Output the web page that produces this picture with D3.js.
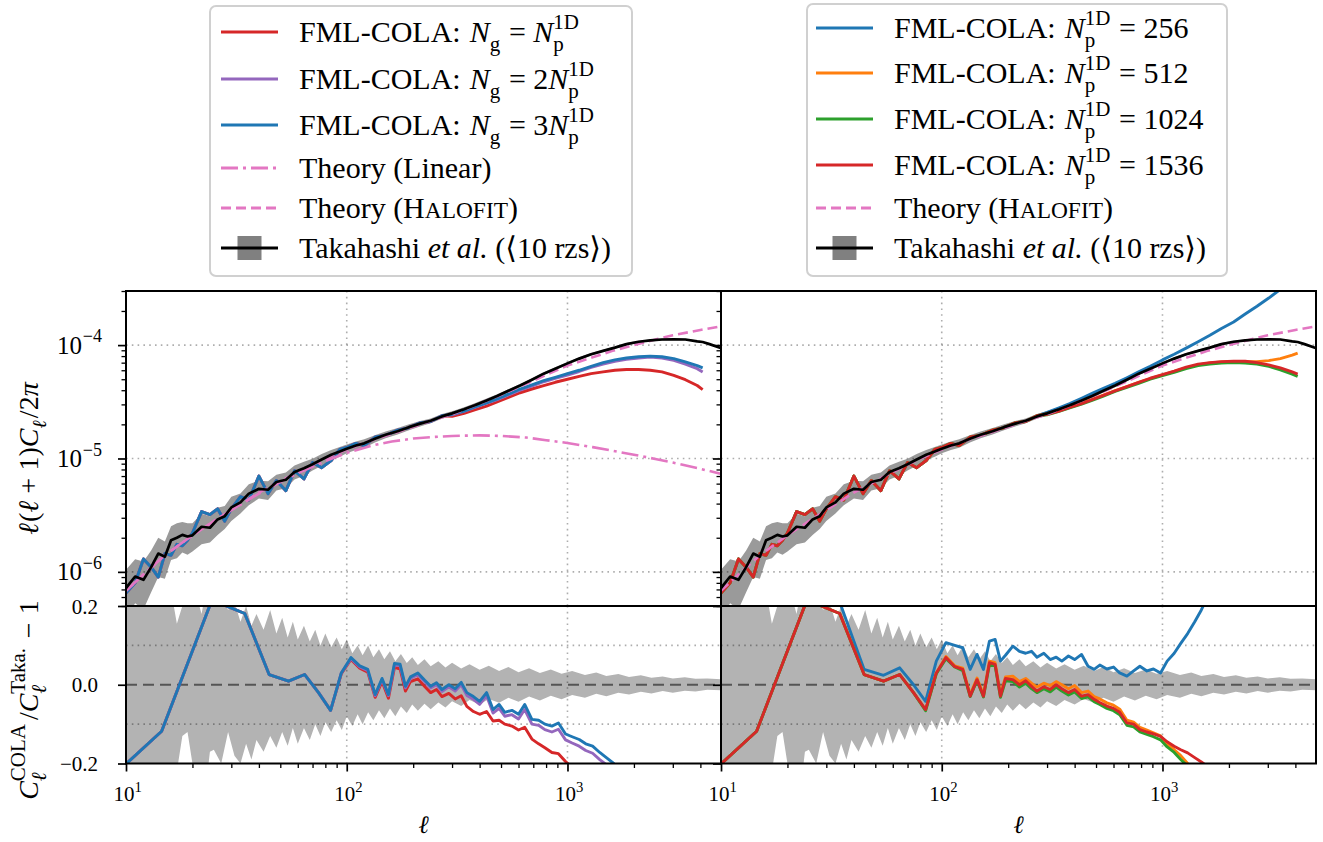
<!DOCTYPE html>
<html>
<head>
<meta charset="utf-8">
<script src="https://cdn.jsdelivr.net/npm/d3@7"></script>
<style>
body { margin: 0; background: #fff; }
svg { display: block; }
</style>
</head>
<body>
<div id="chart"></div>
<script>
// ---- Data ----

// multipoles for the power-spectrum panels
var ELL_TOP = [10, 11, 12, 13, 14, 15, 16, 17, 18, 19, 20, 22, 24, 26, 28, 30, 33, 36, 40, 44, 48, 53, 58, 64, 70, 77,
  85, 93, 100, 110, 120, 135, 150, 170, 190, 215, 240, 270, 300, 340, 380, 430, 480, 540, 610, 690, 780, 880, 1000,
  1130, 1280, 1450, 1640, 1850, 2100, 2370, 2680, 3030, 3420, 3870, 4096, 4400, 5000]

// Takahashi et al. mean of 10 realisations, l(l+1)C_l/2pi
var TAKA = [7.2e-7, 9.1e-7, 8.5e-7, 1.1e-6, 1.45e-6, 1.36e-6, 1.9e-6, 2.0e-6, 2.12e-6, 2.05e-6, 2.1e-6,
  2.5e-6, 2.45e-6, 2.9e-6, 3.1e-6, 3.7e-6, 4.1e-6, 4.9e-6, 5.4e-6, 5.3e-6, 6.2e-6, 6.5e-6, 7.6e-6, 8.2e-6, 8.9e-6, 9.8e-6,
  1.08e-5, 1.15e-5, 1.22e-5, 1.3e-5, 1.36e-5, 1.5e-5, 1.62e-5, 1.74e-5, 1.88e-5, 2.03e-5, 2.15e-5, 2.35e-5, 2.5e-5,
  2.72e-5, 2.95e-5, 3.25e-5, 3.55e-5, 3.95e-5, 4.4e-5, 4.95e-5, 5.6e-5, 6.2e-5, 6.9e-5, 7.6e-5, 8.3e-5, 8.9e-5,
  9.5e-5, 1.02e-4, 1.07e-4, 1.1e-4, 1.12e-4, 1.125e-4, 1.12e-4, 1.08e-4, 1.065e-4, 1.02e-4, 9.35e-5]
// relative scatter of the realisations (grey band, top panels)
var TAKA_ERR = [0.45, 0.42, 0.45, 0.4, 0.38, 0.36, 0.33, 0.34, 0.3, 0.31, 0.28, 0.3, 0.26, 0.27, 0.23, 0.24,
  0.2, 0.21, 0.18, 0.19, 0.16, 0.16, 0.14, 0.14, 0.12, 0.12, 0.1, 0.1, 0.09, 0.085, 0.085, 0.075, 0.07, 0.065,
  0.06, 0.055, 0.05, 0.048, 0.045, 0.042, 0.04, 0.038, 0.036, 0.034, 0.032, 0.03, 0.029, 0.028, 0.027, 0.026,
  0.025, 0.024, 0.023, 0.022, 0.021, 0.02, 0.019, 0.018, 0.017, 0.016, 0.016, 0.015, 0.015]

// COLA runs share initial conditions: identical below l = 300
var COLA_COMMON = [6.5e-7, 8.0e-7, 1.3e-6, 1.1e-6, 9.0e-7, 1.45e-6, 1.4e-6, 1.75e-6, 1.7e-6, 1.9e-6, 2.2e-6,
  3.4e-6, 3.2e-6, 3.6e-6, 2.8e-6, 3.6e-6, 4.6e-6, 4.3e-6, 7.0e-6, 4.9e-6, 6.4e-6, 5.2e-6, 7.8e-6, 6.6e-6, 9.2e-6,
  8.3e-6, 9.6e-6, 1.2e-5, 1.25e-5, 1.36e-5, 1.3e-5, 1.55e-5, 1.6e-5, 1.78e-5, 1.86e-5, 2.06e-5, 2.12e-5, 2.38e-5]
// l = 300 ... 4096 part of each run (same l values as ELL_TOP)
var TAIL_NG1 = [2.35e-5, 2.5e-5, 2.68e-5, 2.9e-5, 3.15e-5, 3.45e-5, 3.8e-5, 4.1e-5, 4.4e-5, 4.7e-5, 5.0e-5, 5.3e-5,
  5.6e-5, 5.8e-5, 6.0e-5, 6.1e-5, 6.1e-5, 6.0e-5, 5.8e-5, 5.4e-5, 4.95e-5, 4.4e-5, 4.05e-5]
var TAIL_NG2 = [2.43e-5, 2.6e-5, 2.82e-5, 3.07e-5, 3.3e-5, 3.63e-5, 4.0e-5, 4.35e-5, 4.75e-5, 5.1e-5, 5.45e-5, 5.85e-5,
  6.35e-5, 6.8e-5, 7.2e-5, 7.5e-5, 7.7e-5, 7.85e-5, 7.7e-5, 7.35e-5, 6.8e-5, 6.2e-5, 5.8e-5]
var TAIL_NG3 = [2.45e-5, 2.62e-5, 2.85e-5, 3.1e-5, 3.35e-5, 3.7e-5, 4.1e-5, 4.45e-5, 4.85e-5, 5.2e-5, 5.6e-5, 6.0e-5,
  6.5e-5, 7.0e-5, 7.4e-5, 7.7e-5, 7.9e-5, 8.0e-5, 7.9e-5, 7.6e-5, 7.1e-5, 6.6e-5, 6.3e-5]
var TAIL_NP256 = [2.55e-5, 2.8e-5, 3.05e-5, 3.4e-5, 3.75e-5, 4.15e-5, 4.6e-5, 5.15e-5, 5.8e-5, 6.5e-5, 7.4e-5, 8.3e-5,
  9.4e-5, 1.07e-4, 1.22e-4, 1.4e-4, 1.6e-4, 1.88e-4, 2.2e-4, 2.6e-4, 3.1e-4, 3.7e-4, 4.0e-4]
var TAIL_NP512 = [2.48e-5, 2.65e-5, 2.85e-5, 3.08e-5, 3.33e-5, 3.62e-5, 3.97e-5, 4.3e-5, 4.68e-5, 5.05e-5, 5.45e-5, 5.85e-5,
  6.3e-5, 6.7e-5, 6.95e-5, 7.1e-5, 7.15e-5, 7.15e-5, 7.15e-5, 7.3e-5, 7.6e-5, 8.15e-5, 8.5e-5]
var TAIL_NP1024 = [2.43e-5, 2.6e-5, 2.79e-5, 3.02e-5, 3.26e-5, 3.55e-5, 3.9e-5, 4.23e-5, 4.6e-5, 5.0e-5, 5.38e-5, 5.75e-5,
  6.2e-5, 6.6e-5, 6.8e-5, 6.95e-5, 7.0e-5, 6.95e-5, 6.8e-5, 6.5e-5, 6.05e-5, 5.55e-5, 5.3e-5]
var TAIL_NP1536 = [2.45e-5, 2.62e-5, 2.82e-5, 3.05e-5, 3.3e-5, 3.6e-5, 3.95e-5, 4.3e-5, 4.7e-5, 5.1e-5, 5.5e-5, 5.9e-5,
  6.4e-5, 6.8e-5, 7.0e-5, 7.15e-5, 7.2e-5, 7.2e-5, 7.0e-5, 6.7e-5, 6.3e-5, 5.8e-5, 5.55e-5]

// theory curves
var ELL_TH = [10, 12, 15, 20, 25, 30, 40, 50, 60, 80, 100, 130, 160, 200, 250, 300, 400, 500, 650, 800, 1000,
  1300, 1600, 2000, 2500, 3000, 4000, 5000]
var LINEAR = [6.8e-7, 9.5e-7, 1.4e-6, 2.1e-6, 2.8e-6, 3.5e-6, 4.9e-6, 6.2e-6, 7.4e-6, 9.5e-6, 1.12e-5, 1.3e-5,
  1.41e-5, 1.5e-5, 1.55e-5, 1.58e-5, 1.6e-5, 1.58e-5, 1.53e-5, 1.45e-5, 1.37e-5, 1.26e-5, 1.17e-5, 1.08e-5,
  9.9e-6, 9.2e-6, 8.1e-6, 7.3e-6]
var HALOFIT = [6.8e-7, 9.5e-7, 1.4e-6, 2.1e-6, 2.8e-6, 3.5e-6, 5.0e-6, 6.3e-6, 7.6e-6, 1.0e-5, 1.2e-5, 1.45e-5,
  1.65e-5, 1.9e-5, 2.2e-5, 2.45e-5, 3.05e-5, 3.65e-5, 4.55e-5, 5.45e-5, 6.6e-5, 7.8e-5, 8.9e-5, 1.0e-4, 1.12e-4,
  1.22e-4, 1.36e-4, 1.47e-4]

// binned ratios C_COLA / C_Taka - 1
var ELL_RATIO = [4.5, 14.5, 24.5, 34.5, 44.5, 54.5, 64.5, 74.5, 84.5, 94.5, 104.5, 114.5, 124.5, 134.5, 144.5,
  154.5, 164.5, 174.5, 184.5, 194.5, 210, 225, 240, 255, 270, 290, 310, 330, 350, 375, 400, 430, 460, 490, 520,
  560, 600, 640, 690, 740, 790, 850, 910, 980, 1050, 1130, 1210, 1300, 1400, 1500, 1620, 1750, 1900, 2100, 2400,
  2800, 3300, 4096]
var R_NG1 = [-0.38, -0.118, 0.215, 0.181, 0.026, 0.009, 0.026, -0.02, -0.065, 0.028,
  0.064, 0.042, 0.032, -0.032, 0.008, -0.034, 0.044, 0.04, -0.016, 0.008,
  0.015, -0.004, -0.02, -0.012, -0.03, -0.022, -0.036, -0.028, -0.055, -0.068,
  -0.075, -0.068, -0.092, -0.09, -0.1, -0.105, -0.115, -0.108, -0.138, -0.15,
  -0.16, -0.172, -0.175, -0.195, -0.21, -0.23, -0.25, -0.27, -0.3, -0.32,
  -0.35, -0.38, -0.42, -0.46, -0.5, -0.54, -0.58, -0.62]
var R_NG2 = [-0.38, -0.118, 0.215, 0.181, 0.026, 0.009, 0.026, -0.02, -0.065, 0.03,
  0.066, 0.045, 0.036, -0.028, 0.013, -0.028, 0.05, 0.048, -0.008, 0.016,
  0.026, 0.008, -0.008, 0.0, -0.017, -0.005, -0.016, 0.0, -0.027, -0.037,
  -0.05, -0.028, -0.072, -0.06, -0.08, -0.076, -0.087, -0.063, -0.1, -0.103,
  -0.114, -0.12, -0.113, -0.14, -0.148, -0.156, -0.167, -0.174, -0.19, -0.203,
  -0.22, -0.24, -0.27, -0.3, -0.35, -0.4, -0.46, -0.53]
var R_NG3 = [-0.38, -0.118, 0.215, 0.181, 0.026, 0.009, 0.026, -0.02, -0.065, 0.03,
  0.069, 0.048, 0.039, -0.025, 0.016, -0.025, 0.054, 0.052, -0.004, 0.02,
  0.03, 0.012, -0.004, 0.005, -0.012, 0.0, -0.01, 0.006, -0.02, -0.03,
  -0.042, -0.02, -0.063, -0.05, -0.07, -0.065, -0.075, -0.05, -0.088, -0.09,
  -0.1, -0.105, -0.097, -0.125, -0.132, -0.139, -0.15, -0.156, -0.172, -0.185,
  -0.2, -0.22, -0.25, -0.28, -0.33, -0.38, -0.43, -0.5]
var R_NP256 = [-0.38, -0.118, 0.215, 0.21, 0.039, 0.024, 0.043, 0.0, -0.042, 0.06,
  0.107, 0.1, 0.094, 0.039, 0.077, 0.039, 0.111, 0.115, 0.06, 0.075,
  0.098, 0.085, 0.08, 0.085, 0.07, 0.08, 0.064, 0.07, 0.06, 0.073,
  0.064, 0.077, 0.047, 0.039, 0.05, 0.04, 0.045, 0.03, 0.022, 0.035,
  0.047, 0.035, 0.04, 0.03, 0.06, 0.08, 0.105, 0.13, 0.16, 0.19,
  0.23, 0.28, 0.36, 0.5, 0.75, 1.1, 1.6, 2.6]
var R_NP512 = [-0.38, -0.118, 0.215, 0.181, 0.026, 0.009, 0.026, -0.02, -0.063, 0.03,
  0.072, 0.048, 0.042, -0.025, 0.017, -0.025, 0.06, 0.056, -0.024, 0.02,
  0.022, 0.008, 0.016, 0.004, -0.006, 0.004, -0.002, 0.008, 0.0, -0.01,
  -0.002, -0.02, -0.016, -0.03, -0.036, -0.046, -0.052, -0.062, -0.09, -0.095,
  -0.108, -0.115, -0.122, -0.13, -0.15, -0.165, -0.18, -0.2, -0.215, -0.23,
  -0.25, -0.27, -0.3, -0.33, -0.35, -0.36, -0.32, -0.2]
var R_NP1024 = [-0.38, -0.118, 0.215, 0.181, 0.026, 0.009, 0.026, -0.02, -0.066, 0.028,
  0.066, 0.045, 0.036, -0.03, 0.011, -0.031, 0.052, 0.048, -0.032, 0.01,
  0.008, -0.006, 0.004, -0.01, -0.02, -0.01, -0.018, -0.006, -0.016, -0.026,
  -0.018, -0.035, -0.031, -0.043, -0.05, -0.06, -0.066, -0.076, -0.103, -0.107,
  -0.12, -0.126, -0.132, -0.14, -0.158, -0.172, -0.19, -0.207, -0.225, -0.24,
  -0.26, -0.29, -0.32, -0.35, -0.37, -0.4, -0.45, -0.5]
var R_NP1536 = [-0.38, -0.118, 0.215, 0.181, 0.026, 0.009, 0.026, -0.02, -0.063, 0.03,
  0.069, 0.046, 0.039, -0.029, 0.013, -0.029, 0.056, 0.052, -0.029, 0.016,
  0.013, 0.0, 0.01, -0.004, -0.016, -0.005, -0.012, 0.0, -0.01, -0.02,
  -0.012, -0.029, -0.025, -0.037, -0.045, -0.054, -0.06, -0.07, -0.097, -0.1,
  -0.114, -0.12, -0.125, -0.131, -0.145, -0.156, -0.165, -0.173, -0.185, -0.196,
  -0.21, -0.23, -0.26, -0.3, -0.33, -0.36, -0.42, -0.48]

// scatter of the Takahashi ratio (grey band, bottom panels), upper and lower
var ELL_BAND = [10, 11, 12, 13, 14, 15, 16, 17, 18, 19, 20, 21, 22, 23, 24, 25, 27, 29, 31, 33,
  35, 37, 39, 42, 45, 48, 51, 54, 57, 60, 64, 68, 72, 76, 80, 85, 90, 95, 100, 106,
  112, 118, 125, 132, 140, 148, 157, 166, 176, 187, 198, 210, 225, 240, 260, 280, 300, 330, 360, 400,
  440, 490, 540, 600, 670, 750, 840, 940, 1050, 1200, 1350, 1500, 1700, 1900, 2150, 2400, 2700, 3000, 3400, 3800,
  4300, 5000]
var BAND_UP = [0.45, 0.38, 0.30, 0.34, 0.28, 0.31, 0.24, 0.155, 0.2, 0.25,
  0.27, 0.22, 0.18, 0.24, 0.26, 0.2, 0.23, 0.19, 0.21, 0.16,
  0.2, 0.15, 0.18, 0.14, 0.19, 0.13, 0.17, 0.12, 0.16, 0.115,
  0.15, 0.11, 0.14, 0.1, 0.13, 0.095, 0.12, 0.09, 0.115, 0.08,
  0.1, 0.075, 0.1, 0.07, 0.09, 0.065, 0.085, 0.06, 0.078, 0.055,
  0.07, 0.05, 0.065, 0.047, 0.06, 0.044, 0.056, 0.041, 0.052, 0.038,
  0.048, 0.035, 0.045, 0.032, 0.042, 0.03, 0.039, 0.028, 0.035, 0.025,
  0.031, 0.022, 0.027, 0.02, 0.024, 0.018, 0.021, 0.016, 0.019, 0.015,
  0.016, 0.014]
var BAND_LO = [0.40, 0.42, 0.35, 0.30, 0.32, 0.26, 0.28, 0.22, 0.13, 0.12,
  0.2, 0.24, 0.2, 0.26, 0.17, 0.165, 0.2, 0.12, 0.18, 0.2,
  0.15, 0.19, 0.14, 0.17, 0.13, 0.16, 0.12, 0.155, 0.11, 0.15,
  0.11, 0.14, 0.1, 0.13, 0.095, 0.12, 0.09, 0.115, 0.08, 0.105,
  0.075, 0.1, 0.07, 0.09, 0.065, 0.085, 0.06, 0.08, 0.055, 0.072,
  0.05, 0.066, 0.048, 0.062, 0.045, 0.058, 0.042, 0.054, 0.039, 0.05,
  0.036, 0.046, 0.033, 0.043, 0.03, 0.04, 0.028, 0.037, 0.026, 0.033,
  0.023, 0.029, 0.02, 0.025, 0.018, 0.022, 0.016, 0.02, 0.015, 0.017,
  0.013, 0.014]

// ---- Settings ----
var settings = {}
settings.width = 1323
settings.height = 842
settings.font = '"Liberation Serif", "DejaVu Serif", serif'
settings.tick_font = 21
settings.ytick_font = 25
settings.label_font = 28
settings.xlabel_font = 25
settings.legend_font = 30
settings.top = { y0: 291, y1: 606 }
settings.bottom = { y0: 606, y1: 763.5 }
settings.ell_domain = [10, 4960]
settings.band_top = '#9a9a9a'
settings.band_bottom = '#b3b3b3'

var C = { blue: '#1f77b4', orange: '#ff7f0e', green: '#2ca02c', red: '#d62728', purple: '#9467bd', pink: '#e377c2' }

function join(a, b) { return a.map(function(v, i){ return [v, b[i]] }) }
function run(tail) { return join(ELL_TOP, COLA_COMMON.concat(tail)) }

var panels = [
  {
    x0: 126, x1: 721, yLabels: true,
    runs: [
      { color: C.red, top: run(TAIL_NG1), ratio: R_NG1 },
      { color: C.purple, top: run(TAIL_NG2), ratio: R_NG2 },
      { color: C.blue, top: run(TAIL_NG3), ratio: R_NG3 }
    ],
    theory: [
      { values: LINEAR, dash: '17,5,3,5' },
      { values: HALOFIT, dash: '10,5' }
    ]
  },
  {
    x0: 721, x1: 1316, yLabels: false,
    runs: [
      { color: C.blue, top: run(TAIL_NP256), ratio: R_NP256 },
      { color: C.orange, top: run(TAIL_NP512), ratio: R_NP512 },
      { color: C.green, top: run(TAIL_NP1024), ratio: R_NP1024 },
      { color: C.red, top: run(TAIL_NP1536), ratio: R_NP1536 }
    ],
    theory: [
      { values: HALOFIT, dash: '10,5' }
    ]
  }
]

// ---- SVG ----
var svg = d3.select('#chart').append('svg')
  .attr('width', settings.width)
  .attr('height', settings.height)
  .style('font-family', settings.font)
svg.append('rect').attr('width', settings.width).attr('height', settings.height).attr('fill', '#fff')
var defs = svg.append('defs')

// Text with italics, sub- and superscripts, measured piece by piece
function rich(parent, parts, size) {
  var g = parent.append('g').attr('fill', '#000')
  var cx = 0
  parts.forEach(function(p){
    if (p.g !== undefined) { cx += p.g * size; return }
    if (p.sub !== undefined || p.sup !== undefined) {
      var w = 0, ss = p.ss || 0.7
      if (p.sub !== undefined) {
        var s = g.append('text').attr('x', cx).attr('y', size * 0.3).attr('font-size', size * ss)
          .attr('font-style', p.subIt ? 'italic' : 'normal').text(p.sub)
        w = Math.max(w, s.node().getComputedTextLength())
      }
      if (p.sup !== undefined) {
        var u = g.append('text').attr('x', cx).attr('y', -size * 0.45).attr('font-size', size * ss).text(p.sup)
        w = Math.max(w, u.node().getComputedTextLength())
      }
      cx += w + size * 0.04
      return
    }
    var t = g.append('text').attr('x', cx).attr('y', 0).attr('font-size', size * (p.s || 1))
      .attr('font-style', p.it ? 'italic' : 'normal').text(p.t)
    cx += t.node().getComputedTextLength()
  })
  g.width = cx
  return g
}

panels.forEach(function(p, pi){
  var x = d3.scaleLog().domain(settings.ell_domain).range([p.x0, p.x1])
  var yT = d3.scaleLog().domain([5e-7, 3e-4]).range([settings.top.y1, settings.top.y0])
  var yB = d3.scaleLinear().domain([-0.2, 0.2]).range([settings.bottom.y1, settings.bottom.y0])

  ;['top', 'bottom'].forEach(function(k){
    defs.append('clipPath').attr('id', 'clip-' + k + pi).append('rect')
      .attr('x', p.x0).attr('y', settings[k].y0)
      .attr('width', p.x1 - p.x0).attr('height', settings[k].y1 - settings[k].y0)
  })

  // ---------- top panel ----------
  var gt = svg.append('g').attr('clip-path', 'url(#clip-top' + pi + ')')
  var taka = ELL_TOP.map(function(l, i){ return { l: l, v: TAKA[i], e: TAKA_ERR[i] } })
  gt.append('path')
    .attr('d', d3.area().x(function(d){ return x(d.l) })
      .y0(function(d){ return yT(d.v * (1 - d.e)) })
      .y1(function(d){ return yT(d.v * (1 + d.e)) })(taka))
    .attr('fill', settings.band_top)

  var lineT = d3.line().x(function(d){ return x(d[0]) }).y(function(d){ return yT(d[1]) })
  var gridStyle = function(sel){ sel.attr('stroke', '#000').attr('stroke-opacity', 0.32).attr('stroke-width', 1.6).attr('stroke-dasharray', '1.6,4.2') }

  ;[100, 1000].forEach(function(l){
    gt.append('line').attr('x1', x(l)).attr('x2', x(l)).attr('y1', settings.top.y0).attr('y2', settings.top.y1).call(gridStyle)
  })
  ;[1e-6, 1e-5, 1e-4].forEach(function(v){
    gt.append('line').attr('x1', p.x0).attr('x2', p.x1).attr('y1', yT(v)).attr('y2', yT(v)).call(gridStyle)
  })

  p.runs.forEach(function(r){
    gt.append('path').attr('d', lineT(r.top)).attr('fill', 'none')
      .attr('stroke', r.color).attr('stroke-width', 2.9).attr('stroke-linejoin', 'round')
  })
  p.theory.forEach(function(t){
    gt.append('path').attr('d', lineT(join(ELL_TH, t.values))).attr('fill', 'none')
      .attr('stroke', C.pink).attr('stroke-width', 2.6).attr('stroke-dasharray', t.dash)
  })
  gt.append('path').attr('d', lineT(join(ELL_TOP, TAKA))).attr('fill', 'none')
    .attr('stroke', '#000').attr('stroke-width', 2.7).attr('stroke-linejoin', 'round')

  // ---------- bottom panel ----------
  var gb = svg.append('g').attr('clip-path', 'url(#clip-bottom' + pi + ')')
  var band = ELL_BAND.map(function(l, i){ return { l: l, up: BAND_UP[i], lo: BAND_LO[i] } })
  gb.append('path')
    .attr('d', d3.area().x(function(d){ return x(d.l) })
      .y0(function(d){ return yB(-d.lo) }).y1(function(d){ return yB(d.up) })(band))
    .attr('fill', settings.band_bottom)

  ;[100, 1000].forEach(function(l){
    gb.append('line').attr('x1', x(l)).attr('x2', x(l)).attr('y1', settings.bottom.y0).attr('y2', settings.bottom.y1).call(gridStyle)
  })
  ;[-0.1, 0.1].forEach(function(v){
    gb.append('line').attr('x1', p.x0).attr('x2', p.x1).attr('y1', yB(v)).attr('y2', yB(v)).call(gridStyle)
  })
  gb.append('line').attr('x1', p.x0).attr('x2', p.x1).attr('y1', yB(0)).attr('y2', yB(0))
    .attr('stroke', '#555').attr('stroke-width', 1.8).attr('stroke-dasharray', '11,6')

  var lineB = d3.line().x(function(d){ return x(d[0]) }).y(function(d){ return yB(d[1]) })
  p.runs.forEach(function(r){
    gb.append('path').attr('d', lineB(join(ELL_RATIO, r.ratio))).attr('fill', 'none')
      .attr('stroke', r.color).attr('stroke-width', 2.9).attr('stroke-linejoin', 'round')
  })

  // ---------- frames and ticks ----------
  ;['top', 'bottom'].forEach(function(k){
    svg.append('rect').attr('x', p.x0).attr('y', settings[k].y0)
      .attr('width', p.x1 - p.x0).attr('height', settings[k].y1 - settings[k].y0)
      .attr('fill', 'none').attr('stroke', '#000').attr('stroke-width', 2)
  })

  function tickStyle(g, w) {
    g.select('.domain').remove()
    g.selectAll('line').attr('stroke', '#000').attr('stroke-width', w)
  }

  var xMajor = [10, 100, 1000]
  var xMinor = x.ticks().filter(function(v){ return xMajor.indexOf(v) < 0 })
  svg.append('g').attr('transform', 'translate(0,' + settings.bottom.y1 + ')')
    .call(d3.axisBottom(x).tickValues(xMinor).tickSize(4.5).tickSizeOuter(0).tickFormat(''))
    .call(tickStyle, 1.3)
  svg.append('g').attr('transform', 'translate(0,' + settings.bottom.y1 + ')')
    .call(d3.axisBottom(x).tickValues(xMajor).tickSize(8).tickSizeOuter(0).tickFormat(''))
    .call(tickStyle, 1.7)

  var yMajor = [1e-6, 1e-5, 1e-4]
  var yMinor = yT.ticks().filter(function(v){
    return Math.abs(Math.log10(v) - Math.round(Math.log10(v))) > 1e-6
  })
  svg.append('g').attr('transform', 'translate(' + p.x0 + ',0)')
    .call(d3.axisLeft(yT).tickValues(yMinor).tickSize(4.5).tickSizeOuter(0).tickFormat(''))
    .call(tickStyle, 1.3)
  svg.append('g').attr('transform', 'translate(' + p.x0 + ',0)')
    .call(d3.axisLeft(yT).tickValues(yMajor).tickSize(8).tickSizeOuter(0).tickFormat(''))
    .call(tickStyle, 1.7)
  var bTicks = [-0.2, 0, 0.2]
  svg.append('g').attr('transform', 'translate(' + p.x0 + ',0)')
    .call(d3.axisLeft(yB).tickValues(bTicks).tickSize(8).tickSizeOuter(0).tickFormat(''))
    .call(tickStyle, 1.7)

  // x tick labels
  xMajor.forEach(function(l){
    var t = rich(svg, [{ t: '10' }, { sup: String(Math.round(Math.log10(l))) }], settings.tick_font)
    t.attr('transform', 'translate(' + (x(l) - t.width / 2 + 2) + ',801)')
  })
  // x axis label
  var xl = rich(svg, [{ t: 'ℓ', it: true }], settings.xlabel_font)
  xl.attr('transform', 'translate(' + ((p.x0 + p.x1) / 2 - xl.width / 2) + ',833)')

  if (p.yLabels) {
    yMajor.forEach(function(v){
      var t = rich(svg, [{ t: '10' }, { g: 0.03 }, { sup: '−' + Math.round(-Math.log10(v)), ss: 0.72 }], settings.ytick_font)
      t.attr('transform', 'translate(' + (103 - t.width) + ',' + (yT(v) + 8.5) + ')')
    })
    bTicks.forEach(function(v){
      var s = v < 0 ? '−' + d3.format('.1f')(-v) : d3.format('.1f')(v)
      var t = rich(svg, [{ t: s }], settings.tick_font)
      t.attr('transform', 'translate(' + (98 - t.width) + ',' + (yB(v) + 7.5) + ')')
    })
    var yl = rich(svg, [{ t: 'ℓ', it: true }, { g: 0.04 }, { t: '(' }, { t: 'ℓ', it: true }, { g: 0.26 }, { t: '+' }, { g: 0.26 },
      { t: '1)' }, { t: 'C', it: true }, { sub: 'ℓ', subIt: true }, { g: 0.04 }, { t: '/2' }, { t: 'π', it: true }], settings.label_font)
    yl.attr('transform', 'translate(38,' + ((settings.top.y0 + settings.top.y1) / 2 + 10) + ') rotate(-90) translate(' + (-yl.width / 2) + ',0)')
    var rl = rich(svg, [{ t: 'C', it: true }, { sub: 'ℓ', subIt: true, sup: 'COLA', ss: 0.75 }, { g: 0.1 }, { t: '/' }, { t: 'C', it: true },
      { sub: 'ℓ', subIt: true, sup: 'Taka.', ss: 0.75 }, { g: 0.3 }, { t: '−' }, { g: 0.3 }, { t: '1' }], settings.label_font)
    rl.attr('transform', 'translate(38,700) rotate(-90) translate(' + (-rl.width / 2) + ',0)')
  }
})

// ---------- legends ----------
function npSup() { return { sub: 'p', sup: '1D' } }
var LEGEND_LEFT = {
  box: [210, 6, 422, 270], hx: [221, 278], tx: 299,
  rows: [
    { y: 32, color: C.red, parts: [{ t: 'FML-COLA:' }, { g: 0.3 }, { t: 'N', it: true }, { sub: 'g' }, { g: 0.25 }, { t: '=' }, { g: 0.25 }, { t: 'N', it: true }, npSup()] },
    { y: 79, color: C.purple, parts: [{ t: 'FML-COLA:' }, { g: 0.3 }, { t: 'N', it: true }, { sub: 'g' }, { g: 0.25 }, { t: '=' }, { g: 0.25 }, { t: '2' }, { t: 'N', it: true }, npSup()] },
    { y: 125, color: C.blue, parts: [{ t: 'FML-COLA:' }, { g: 0.3 }, { t: 'N', it: true }, { sub: 'g' }, { g: 0.25 }, { t: '=' }, { g: 0.25 }, { t: '3' }, { t: 'N', it: true }, npSup()] },
    { y: 168, color: C.pink, dash: '17,5,3,5', parts: [{ t: 'Theory (Linear)' }] },
    { y: 208, color: C.pink, dash: '10,5', parts: [{ t: 'Theory (H' }, { t: 'ALOFIT', s: 0.78 }, { t: ')' }] },
    { y: 248, color: '#000', patch: true, parts: [{ t: 'Takahashi' }, { g: 0.25 }, { t: 'et al.', it: true }, { g: 0.25 }, { t: '(⟨10 rzs⟩)' }] }
  ]
}
var LEGEND_RIGHT = {
  box: [807, 4, 420, 272], hx: [816, 873], tx: 894,
  rows: [
    { y: 28, color: C.blue, parts: [{ t: 'FML-COLA:' }, { g: 0.3 }, { t: 'N', it: true }, npSup(), { g: 0.25 }, { t: '=' }, { g: 0.25 }, { t: '256' }] },
    { y: 73, color: C.orange, parts: [{ t: 'FML-COLA:' }, { g: 0.3 }, { t: 'N', it: true }, npSup(), { g: 0.25 }, { t: '=' }, { g: 0.25 }, { t: '512' }] },
    { y: 119, color: C.green, parts: [{ t: 'FML-COLA:' }, { g: 0.3 }, { t: 'N', it: true }, npSup(), { g: 0.25 }, { t: '=' }, { g: 0.25 }, { t: '1024' }] },
    { y: 165, color: C.red, parts: [{ t: 'FML-COLA:' }, { g: 0.3 }, { t: 'N', it: true }, npSup(), { g: 0.25 }, { t: '=' }, { g: 0.25 }, { t: '1536' }] },
    { y: 208, color: C.pink, dash: '10,5', parts: [{ t: 'Theory (H' }, { t: 'ALOFIT', s: 0.78 }, { t: ')' }] },
    { y: 248, color: '#000', patch: true, parts: [{ t: 'Takahashi' }, { g: 0.25 }, { t: 'et al.', it: true }, { g: 0.25 }, { t: '(⟨10 rzs⟩)' }] }
  ]
}

;[LEGEND_LEFT, LEGEND_RIGHT].forEach(function(L){
  svg.append('rect').attr('x', L.box[0]).attr('y', L.box[1]).attr('width', L.box[2]).attr('height', L.box[3])
    .attr('rx', 6).attr('fill', '#fff').attr('stroke', '#d0d0d0').attr('stroke-width', 2)
  L.rows.forEach(function(r){
    if (r.patch) {
      var cxm = (L.hx[0] + L.hx[1]) / 2
      svg.append('rect').attr('x', cxm - 12).attr('y', r.y - 12).attr('width', 24).attr('height', 24).attr('fill', '#808080')
    }
    svg.append('line').attr('x1', L.hx[0]).attr('x2', L.hx[1]).attr('y1', r.y).attr('y2', r.y)
      .attr('stroke', r.color).attr('stroke-width', 2.8)
      .attr('stroke-dasharray', r.dash || null)
    var t = rich(svg, r.parts, settings.legend_font)
    t.attr('transform', 'translate(' + L.tx + ',' + (r.y + 10) + ')')
  })
})
</script>
</body>
</html>
